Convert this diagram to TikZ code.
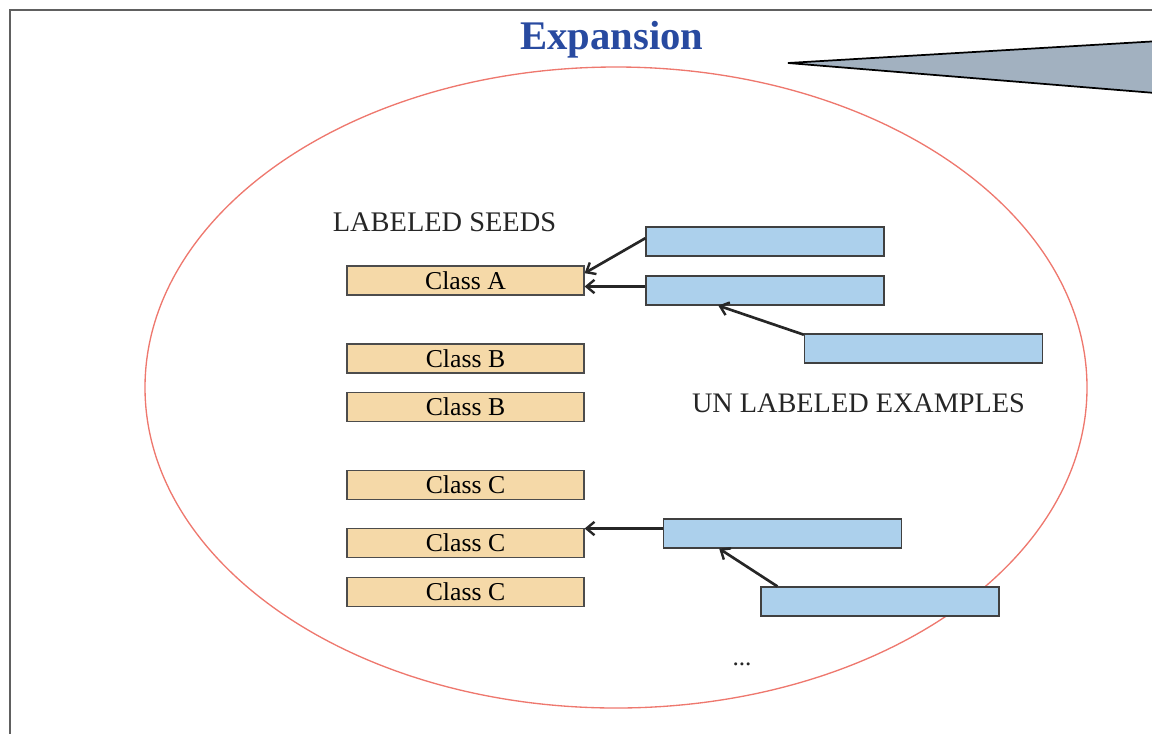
\documentclass[tikz,border=0pt]{standalone}
\usepackage{fontspec}
\setmainfont{Liberation Serif}
\usetikzlibrary{arrows.meta,calc}

\definecolor{seedfill}{RGB}{245,217,168}
\definecolor{examplefill}{RGB}{172,208,236}
\definecolor{titleblue}{RGB}{40,74,160}
\definecolor{ringred}{RGB}{238,120,110}
\definecolor{calloutfill}{RGB}{162,177,192}
\definecolor{framegray}{RGB}{96,96,96}

\tikzset{
  seedbox/.style={draw=black!70, line width=0.9pt, fill=seedfill, inner sep=0pt,
    minimum width=177.75pt, minimum height=21.75pt,
    font=\fontsize{19.3}{22}\selectfont},
  examplebox/.style={draw=black!75, line width=0.9pt, fill=examplefill, inner sep=0pt,
    minimum width=178.5pt, minimum height=21.75pt},
  caption/.style={inner sep=0pt, text=black!85},
  link/.style={draw=black!85, line width=2pt, -{Straight Barb[length=6pt,width=10pt,line width=1.8pt]}},
}

\begin{document}
\begin{tikzpicture}[x=0.75pt, y=-0.75pt]
  \useasboundingbox (0,0) rectangle (1152,733);
  \clip (0,0) rectangle (1152,733);

  % slide frame, running off the right and bottom edges
  \draw[framegray, line width=1.6pt] (10,760) -- (10,10) -- (1170,10);

  % callout wedge
  \draw[fill=calloutfill, line width=1.3pt, line join=miter]
    (788,63) -- (1165,40.7) -- (1165,93.8) -- cycle;

  % title
  \node[caption, text=titleblue, font=\fontsize{30.5}{34}\selectfont\bfseries] (title) at (612,40) {Expansion};

  % boundary ellipse
  \draw[ringred, line width=1pt] (616,387.5) ellipse [x radius=471, y radius=320.5];

  % labeled seeds
  \node[caption, font=\fontsize{21.3}{24}\selectfont] (seedslbl) at (444.5,222) {LABELED SEEDS};
  \node[seedbox] (A)  at (465.5,280.5) {Class A};
  \node[seedbox] (B1) at (465.5,358.5) {Class B};
  \node[seedbox] (B2) at (465.5,407)   {Class B};
  \node[seedbox] (C1) at (465.5,485)   {Class C};
  \node[seedbox] (C2) at (465.5,543)   {Class C};
  \node[seedbox] (C3) at (465.5,592)   {Class C};

  % unlabeled examples
  \node[examplebox] (e1) at (765,241.5) {};
  \node[examplebox] (e2) at (765,290.5) {};
  \node[examplebox] (e3) at (923.5,348.5) {};
  \node[examplebox] (e4) at (782.5,533.5) {};
  \node[examplebox] (e5) at (880,601.5) {};

  \node[caption, font=\fontsize{21.2}{24}\selectfont] (exlbl) at (858.5,403) {UN LABELED EXAMPLES};
  \node[caption, font=\fontsize{19}{22}\selectfont] (more) at (742,664) {...};

  % expansion links
  \draw[link] ([yshift=2.5pt]e1.west) -- ([yshift=5.5pt]A.east);
  \draw[link] ([yshift=3pt]e2.west) -- ([yshift=3pt]e2.west -| A.east);
  \draw[link] ([yshift=-1pt]e3.north west) -- ([xshift=-35pt]e2.south);
  \draw[link] ([yshift=3.75pt]e4.west) -- ([yshift=3.75pt]e4.west -| C2.east);
  \draw[link] ([xshift=12.75pt]e5.north west) -- ([xshift=-47.5pt]e4.south);
\end{tikzpicture}
\end{document}
